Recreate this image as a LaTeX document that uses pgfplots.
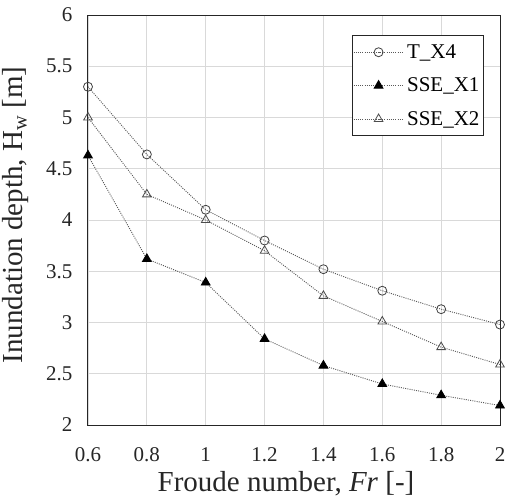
\documentclass[border=0pt]{standalone}
\usepackage{fontspec}
\setmainfont{Liberation Serif}
\usepackage{pgfplots}
\pgfplotsset{compat=1.18}
\definecolor{gridc}{HTML}{D9D9D9}
\definecolor{linec}{HTML}{595959}
\begin{document}
\begin{tikzpicture}
\begin{axis}[
  width=412pt, height=410pt, scale only axis,
  xmin=0.6, xmax=2, ymin=2, ymax=6,
  xtick={0.6,0.8,1,1.2,1.4,1.6,1.8,2},
  xticklabels={0.6,0.8,1,1.2,1.4,1.6,1.8,2},
  ytick={2,2.5,3,3.5,4,4.5,5,5.5,6},
  yticklabels={2,2.5,3,3.5,4,4.5,5,5.5,6},
  grid=major,
  grid style={gridc, line width=0.8pt},
  major tick length=0pt,
  axis line style={black!85, line width=1pt},
  /pgf/number format/assume math mode=true,
  tick label style={font=\fontsize{21}{25}\selectfont, black!85},
  xticklabel style={yshift=-19pt},
  yticklabel style={xshift=-12pt},
  xlabel={\fontsize{29}{34}\selectfont Froude number, \textit{Fr} [-]},
  ylabel={\fontsize{29}{34}\selectfont Inundation depth, H\textsubscript{w} [m]},
  every axis x label/.style={at={(rel axis cs:0.5,0)}, xshift=-8pt, yshift=-59pt, anchor=center, black!85},
  every axis y label/.style={at={(rel axis cs:0,0.5)}, xshift=-72pt, yshift=5pt, anchor=center, rotate=90, black!85},
  legend style={at={(0.961,0.951)}, anchor=north east,
    font=\fontsize{21}{25}\selectfont, draw=black!85, line width=1pt,
    row sep=14pt, inner xsep=1pt, inner ysep=7pt, fill=white,
    nodes={inner xsep=3pt}},
  legend cell align=left,
  legend image code/.code={\draw[mark repeat=2,mark phase=2] plot coordinates {(0cm,0cm) (0.88cm,0cm) (1.76cm,0cm)};},
]
\addplot[linec, line width=0.9pt, dash pattern=on 1pt off 1.2pt,
  mark=o, mark size=4.5pt, mark options={solid, fill=white, draw=black!75, line width=0.8pt}]
  coordinates {(0.6,5.30) (0.8,4.64) (1.0,4.10) (1.2,3.80) (1.4,3.52) (1.6,3.31) (1.8,3.13) (2.0,2.98)};
\addlegendentry{T\_X4}
\addplot[linec, line width=0.9pt, dash pattern=on 1pt off 1.2pt,
  mark=triangle*, mark size=5pt, mark options={solid, fill=black, draw=black}]
  coordinates {(0.6,4.63) (0.8,3.62) (1.0,3.39) (1.2,2.84) (1.4,2.58) (1.6,2.40) (1.8,2.29) (2.0,2.19)};
\addlegendentry{SSE\_X1\hspace{20pt}}
\addplot[linec, line width=0.9pt, dash pattern=on 1pt off 1.2pt,
  mark=triangle, mark size=5pt, mark options={solid, fill=white, draw=black!70, line width=0.8pt}]
  coordinates {(0.6,5.00) (0.8,4.25) (1.0,4.00) (1.2,3.70) (1.4,3.26) (1.6,3.01) (1.8,2.76) (2.0,2.59)};
\addlegendentry{SSE\_X2}
\end{axis}
\pgfresetboundingbox
\useasboundingbox (-88pt,-74pt) rectangle (418pt,425pt);
\end{tikzpicture}
\end{document}
